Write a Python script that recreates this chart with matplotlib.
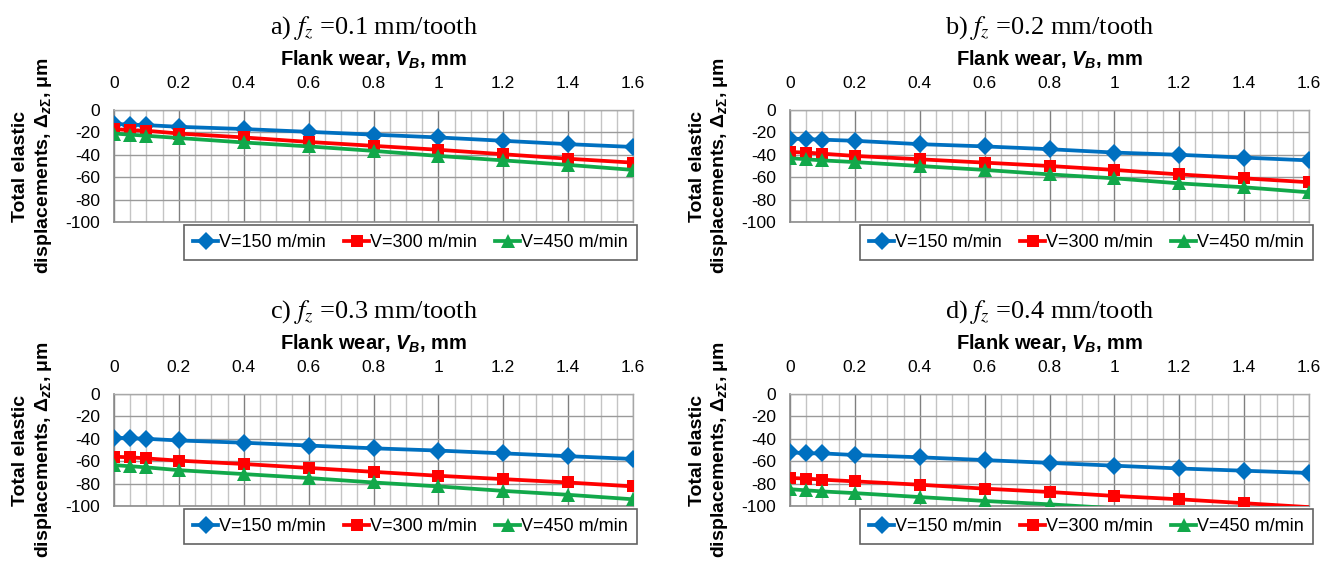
import numpy as np
import matplotlib
matplotlib.use("Agg")
import matplotlib.pyplot as plt
from matplotlib.ticker import MultipleLocator
from matplotlib.lines import Line2D

plt.rcParams['font.family'] = ['Liberation Sans', 'DejaVu Sans']
plt.rcParams['mathtext.fontset'] = 'custom'
plt.rcParams['mathtext.rm'] = 'Liberation Sans'
plt.rcParams['mathtext.it'] = 'Liberation Sans:italic'
plt.rcParams['mathtext.bf'] = 'Liberation Sans:bold'
try:
    plt.rcParams['mathtext.bfit'] = 'Liberation Sans:italic:bold'
except KeyError:
    pass

# ---------------- data ----------------
flank_wear = [0, 0.05, 0.1, 0.2, 0.4, 0.6, 0.8, 1.0, 1.2, 1.4, 1.6]
xtick_values = [0, 0.2, 0.4, 0.6, 0.8, 1.0, 1.2, 1.4, 1.6]
xtick_labels = ['0', '0.2', '0.4', '0.6', '0.8', '1', '1.2', '1.4', '1.6']
ytick_values = [0, -20, -40, -60, -80, -100]
series_labels = ['V=150 m/min', 'V=300 m/min', 'V=450 m/min']
panel_titles = ['a) $f_z$ =0.1 mm/tooth', 'b) $f_z$ =0.2 mm/tooth',
                'c) $f_z$ =0.3 mm/tooth', 'd) $f_z$ =0.4 mm/tooth']

a_v150 = [-12.5, -13, -13.5, -15, -17, -19.5, -22, -24.5, -27.5, -30.5, -33]
a_v300 = [-17, -18, -18.5, -21, -24.5, -28.5, -32, -35.5, -39.5, -43.5, -47]
a_v450 = [-21, -22, -23, -25, -29, -32.5, -36.5, -41, -45, -49, -53.5]

b_v150 = [-25.5, -26, -26.5, -27.5, -30.5, -32.5, -35, -38, -40, -42.5, -45]
b_v300 = [-37.5, -38, -39, -41, -44, -47, -50, -53.5, -57.5, -61, -64.5]
b_v450 = [-43, -44, -45, -46.5, -50, -53.5, -57.5, -61, -65.5, -69, -73.5]

c_v150 = [-39, -39.5, -40, -41.5, -43.5, -46, -48.5, -50.5, -53, -55.5, -58]
c_v300 = [-56, -56.5, -57.5, -59.5, -62.5, -66, -69.5, -73, -76, -79, -82.5]
c_v450 = [-63.5, -64.5, -65.5, -68, -71.5, -75, -79, -82.5, -86.5, -90, -94]

d_v150 = [-52, -53, -53, -54.5, -56.5, -59, -61.5, -64, -66.5, -68.5, -70.5]
d_v300 = [-75, -75.5, -76.5, -78, -81, -84.5, -87.5, -91, -94, -97.5, -101]
d_v450 = [-85, -86, -87, -88.5, -92, -95.5, -98.5, -102, -105.5, -109, -112.5]

panels = [
    (a_v150, a_v300, a_v450),
    (b_v150, b_v300, b_v450),
    (c_v150, c_v300, c_v450),
    (d_v150, d_v300, d_v450),
]

colors = ['#0070C0', '#FF0000', '#12A84A']
markers = ['D', 's', '^']
msizes = [9.5, 8.5, 10]

# ---------------- layout ----------------
W, H = 1334, 562
fig = plt.figure(figsize=(W / 100, H / 100), dpi=100)

lefts = [114, 790, 114, 790]
bottoms = [222, 222, 506, 506]
aw, ah = 519, 112

ylabel_text = ('Total elastic\ndisplacements, '
               r'$\mathbf{\Delta}_{\mathbfit{z}\mathbf{\Sigma}}$' + ', μm')
xlabel_text = r'Flank wear, $\mathbfit{V}_{\mathbfit{B}}$, mm'

for i, (series, title) in enumerate(zip(panels, panel_titles)):
    ax = fig.add_axes([lefts[i] / W, 1 - bottoms[i] / H, aw / W, ah / H])
    ax.set_xlim(0, 1.6)
    ax.set_ylim(-100, 0)
    ax.set_axisbelow(True)

    ax.xaxis.tick_top()
    ax.xaxis.set_label_position('top')
    ax.set_xticks(xtick_values)
    ax.set_xticklabels(xtick_labels)
    ax.xaxis.set_minor_locator(MultipleLocator(0.05))
    ax.set_yticks(ytick_values)
    ax.set_yticklabels([f'{v:g}' for v in ytick_values])
    ax.tick_params(axis='x', which='both', length=0, pad=14, labelsize=12.5)
    ax.tick_params(axis='y', which='both', length=0, pad=10, labelsize=12.5)

    ax.grid(True, axis='x', which='minor', color='#C4C4C4', lw=1.0)
    ax.grid(True, axis='x', which='major', color='#808080', lw=1.0)
    ax.grid(True, axis='y', which='major', color='#9A9A9A', lw=1.0)
    for s in ['left', 'bottom']:
        ax.spines[s].set_color('#8C8C8C')
        ax.spines[s].set_linewidth(1.2)
    for s in ['top', 'right']:
        ax.spines[s].set_color('#A8A8A8')
        ax.spines[s].set_linewidth(1.0)

    for vals, c, m, ms in zip(series, colors, markers, msizes):
        show = [v >= -100 for v in vals]
        ax.plot(flank_wear, vals, color=c, lw=2.7, marker=m, ms=ms,
                markevery=show, markeredgewidth=0, zorder=3)

    ax.set_xlabel(xlabel_text, fontsize=14.5, fontweight='bold', labelpad=7)
    ax.set_ylabel(ylabel_text, fontsize=14, fontweight='bold', labelpad=8,
                  linespacing=1.25)

    ax.text(0.5, 1.73, title, transform=ax.transAxes, ha='center', va='center',
            fontsize=19, family='Liberation Serif', math_fontfamily='stix')

    handles = [Line2D([], [], color=c, lw=2.7, marker=m, ms=ms, markeredgewidth=0)
               for c, m, ms in zip(colors, markers, msizes)]
    leg = ax.legend(handles, series_labels, loc='upper left',
                    bbox_to_anchor=(0.135, -0.027, 0.873, 0), mode='expand',
                    ncol=3, fontsize=13, frameon=True, fancybox=False,
                    edgecolor='#3A3A3A', borderaxespad=0, handlelength=1.4,
                    handletextpad=0.05, borderpad=0.5, columnspacing=0.5)
    leg.get_frame().set_linewidth(1.2)

fig.savefig('out.png', dpi=100, facecolor='white')
